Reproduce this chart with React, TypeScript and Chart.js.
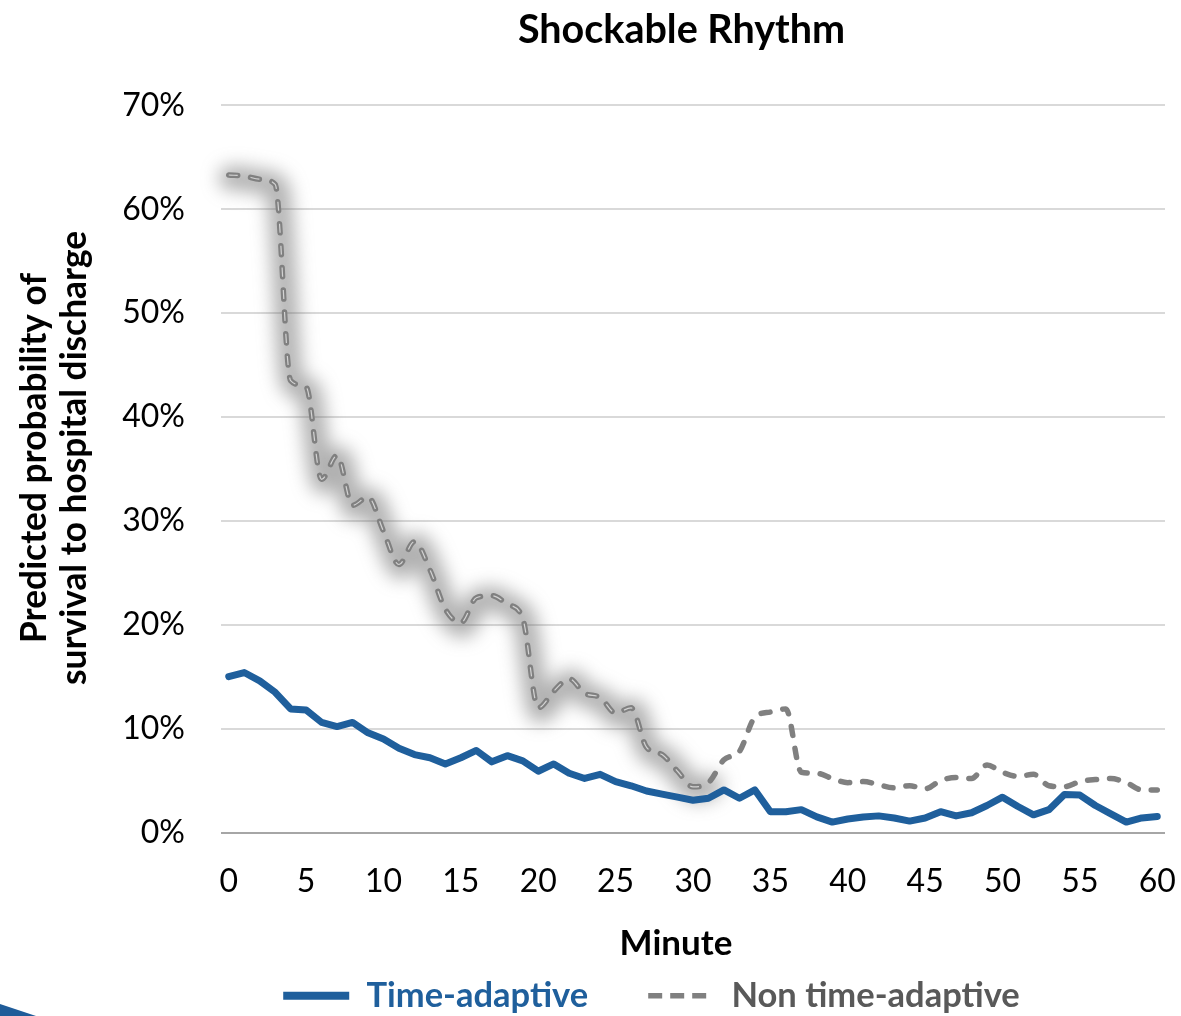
import { useEffect, useRef } from "react";
import { Chart, registerables } from "chart.js";

Chart.register(...registerables);

// Minutes since start of resuscitation (category axis)
const minutes = [
  "0", "1", "2", "3", "4", "5", "6", "7", "8", "9",
  "10", "11", "12", "13", "14", "15", "16", "17", "18", "19",
  "20", "21", "22", "23", "24", "25", "26", "27", "28", "29",
  "30", "31", "32", "33", "34", "35", "36", "37", "38", "39",
  "40", "41", "42", "43", "44", "45", "46", "47", "48", "49",
  "50", "51", "52", "53", "54", "55", "56", "57", "58", "59",
  "60",
];

// Predicted probability of survival to hospital discharge (%)
const timeAdaptive = [
  15.0, 15.4, 14.6, 13.5, 11.9, 11.8, 10.6, 10.2, 10.6, 9.6,
  9.0, 8.1, 7.5, 7.2, 6.6, 7.2, 7.9, 6.8, 7.4, 6.9,
  5.9, 6.6, 5.7, 5.2, 5.6, 4.9, 4.5, 4.0, 3.7, 3.4,
  3.1, 3.3, 4.1, 3.3, 4.1, 2.0, 2.0, 2.2, 1.5, 1.0,
  1.3, 1.5, 1.6, 1.4, 1.1, 1.4, 2.0, 1.6, 1.9, 2.6,
  3.4, 2.5, 1.7, 2.2, 3.65, 3.6, 2.6, 1.8, 1.0, 1.4,
  1.55,
];

const nonTimeAdaptive = [
  63.3, 63.2, 62.9, 62.4, 43.5, 42.9, 34.0, 36.3, 31.5, 32.3,
  29.0, 25.8, 28.0, 25.3, 21.5, 20.2, 22.6, 22.8, 22.0, 20.6,
  12.0, 13.6, 14.8, 13.4, 13.0, 11.5, 12.0, 8.2, 7.5, 5.9,
  4.4, 4.8, 7.0, 7.8, 11.1, 11.6, 11.9, 5.8, 5.7, 5.2,
  4.8, 4.9, 4.6, 4.3, 4.5, 4.2, 5.0, 5.3, 5.2, 6.5,
  5.8, 5.4, 5.6, 4.5, 4.4, 4.9, 5.1, 5.2, 4.8, 4.1,
  4.1,
];

const yTicks = [0, 10, 20, 30, 40, 50, 60, 70];

const FONT = "Lato, 'Open Sans', sans-serif";
const BLUE = "#1f5f9c";
const GREY = "#808080";
const GREY_DASH = [9, 13];
const LEGEND_GREY_DASH = [14, 8];
const GLOW_LAST_INDEX = 31;

// Follows the same curved path the line element draws (uses its bezier control points)
function tracePath(ctx: CanvasRenderingContext2D, pts: any[], dx = 0, dy = 0) {
  ctx.beginPath();
  pts.forEach((p: any, i: number) => {
    if (i === 0) {
      ctx.moveTo(p.x + dx, p.y + dy);
    } else {
      const prev = pts[i - 1];
      ctx.bezierCurveTo(
        prev.cp2x + dx, prev.cp2y + dy,
        p.cp1x + dx, p.cp1y + dy,
        p.x + dx, p.y + dy
      );
    }
  });
}

// Soft halo under the first stretch of the dashed series, plus the light core of its dashes
const glowPlugin = {
  id: "seriesGlow",
  beforeDatasetsDraw(chart: any) {
    const pts = chart.getDatasetMeta(1).data.slice(0, GLOW_LAST_INDEX + 1);
    if (!pts.length) return;
    const ctx = chart.ctx;
    ctx.save();
    ctx.filter = "blur(9px)";
    ctx.strokeStyle = "rgba(100,100,100,0.5)";
    ctx.lineWidth = 24;
    ctx.lineJoin = "round";
    ctx.lineCap = "round";
    tracePath(ctx, pts, 2, 3);
    ctx.stroke();
    ctx.restore();
  },
  afterDatasetsDraw(chart: any) {
    const pts = chart.getDatasetMeta(1).data.slice(0, GLOW_LAST_INDEX + 1);
    if (!pts.length) return;
    const ctx = chart.ctx;
    ctx.save();
    ctx.setLineDash(GREY_DASH);
    ctx.strokeStyle = "rgba(255,255,255,0.65)";
    ctx.lineWidth = 1.2;
    ctx.lineCap = "butt";
    ctx.lineJoin = "round";
    tracePath(ctx, pts);
    ctx.stroke();
    ctx.restore();
  },
};

// Title, legend and axis titles are centred on the plot block rather than the canvas
const blockShift = {
  id: "blockShift",
  afterLayout(chart: any) {
    const lg = chart.legend;
    if (lg) {
      lg.left += 69;
      lg.right += 69;
    }
    const tb = chart.titleBlock;
    if (tb) {
      tb.left += 99;
      tb.right += 99;
    }
    const xs = chart.scales.x;
    if (xs) xs.left -= 34;
    const ys = chart.scales.y;
    if (ys) ys.top -= 22;
  },
};

// Corner swatch at the lower left
const cornerPlugin = {
  id: "cornerSwatch",
  afterDraw(chart: any) {
    const ctx = chart.ctx;
    ctx.save();
    ctx.fillStyle = "#1f5c99";
    ctx.beginPath();
    ctx.moveTo(0, 1004);
    ctx.lineTo(36, 1016);
    ctx.lineTo(36, 1023);
    ctx.lineTo(0, 1023);
    ctx.closePath();
    ctx.fill();
    ctx.restore();
  },
};

export default function App() {
  const canvasRef = useRef<HTMLCanvasElement | null>(null);

  useEffect(() => {
    const canvas = canvasRef.current;
    if (!canvas) return;
    const chart = new Chart(canvas, {
      type: "line",
      data: {
        labels: minutes,
        datasets: [
          {
            label: "Time-adaptive",
            data: timeAdaptive,
            borderColor: BLUE,
            backgroundColor: BLUE,
            borderWidth: 7,
            borderCapStyle: "round",
            borderJoinStyle: "round",
            pointRadius: 0,
            tension: 0,
          },
          {
            label: "Non time-adaptive",
            data: nonTimeAdaptive,
            borderColor: GREY,
            backgroundColor: GREY,
            borderWidth: 5.5,
            borderDash: GREY_DASH,
            borderCapStyle: "round",
            borderJoinStyle: "round",
            pointRadius: 0,
            cubicInterpolationMode: "monotone",
          },
        ],
      },
      options: {
        responsive: false,
        animation: false,
        devicePixelRatio: 1,
        layout: { padding: { left: 0, right: 16, top: 0, bottom: 0 } },
        plugins: {
          title: {
            display: true,
            text: "Shockable Rhythm",
            color: "#000",
            font: { family: FONT, size: 39.5, weight: "bold", lineHeight: 1.2 },
            padding: { top: 7, bottom: 51 },
          },
          legend: {
            position: "bottom",
            labels: {
              usePointStyle: true,
              pointStyle: "line",
              pointStyleWidth: 66,
              padding: 60,
              font: { family: FONT, size: 34.5, weight: "bold" },
              generateLabels(chart: any) {
                return chart.data.datasets.map((ds: any, i: number) => ({
                  text: ds.label,
                  datasetIndex: i,
                  pointStyle: "line",
                  fillStyle: ds.borderColor,
                  strokeStyle: ds.borderColor,
                  lineWidth: i === 0 ? 8 : 5.5,
                  lineDash: ds.borderDash ? LEGEND_GREY_DASH : [],
                  lineCap: "butt",
                  hidden: false,
                  fontColor: i === 0 ? BLUE : "#595959",
                }));
              },
            },
          },
          tooltip: { enabled: false },
        },
        scales: {
          x: {
            type: "category",
            offset: true,
            grid: { display: false, drawTicks: false },
            border: { display: false },
            ticks: {
              autoSkip: false,
              maxRotation: 0,
              padding: 30,
              color: "#000",
              font: { family: FONT, size: 32 },
              callback(this: any, value: any) {
                const label = this.getLabelForValue(value);
                return Number(label) % 5 === 0 ? label : "";
              },
            },
            title: {
              display: true,
              text: "Minute",
              color: "#000",
              font: { family: FONT, size: 35, weight: "bold", lineHeight: 1.2 },
              padding: { top: 0, bottom: -46 },
            },
            afterFit(scale: any) {
              scale.height = 86;
              scale.paddingLeft = 0;
              scale.paddingRight = 0;
            },
          },
          y: {
            min: 0,
            max: 70,
            afterBuildTicks(scale: any) {
              scale.ticks = yTicks.map((v) => ({ value: v }));
            },
            grid: {
              drawTicks: false,
              lineWidth: 2,
              color: (ctx: any) => (ctx.tick && ctx.tick.value === 0 ? "#a6a6a6" : "#d9d9d9"),
            },
            border: { display: false },
            ticks: {
              padding: 36,
              color: "#000",
              font: { family: FONT, size: 32 },
              callback: (v: any) => `${v}%`,
            },
            title: {
              display: true,
              text: ["Predicted probability of", "survival to hospital discharge"],
              color: "#000",
              font: { family: FONT, size: 35.3, weight: "bold", lineHeight: 1.13 },
              padding: { top: 15, bottom: 0 },
            },
            afterFit(scale: any) {
              scale.width = 221;
            },
          },
        },
      },
      plugins: [glowPlugin, blockShift, cornerPlugin],
    });
    return () => chart.destroy();
  }, []);

  return (
    <div style={{ position: "fixed", left: 0, top: 0, width: 1181, height: 1023, background: "#fff" }}>
      <canvas ref={canvasRef} width={1181} height={1023} style={{ display: "block" }} />
    </div>
  );
}
